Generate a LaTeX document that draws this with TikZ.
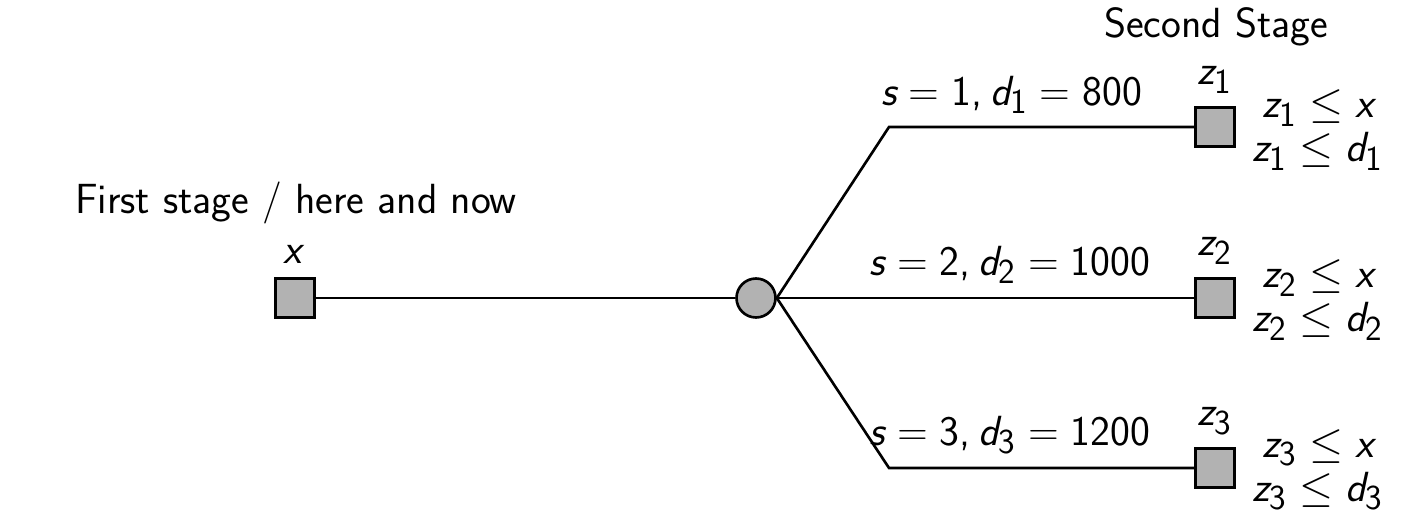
\documentclass[tikz,border=0pt]{standalone}
\renewcommand{\familydefault}{\sfdefault}
\usepackage[italic]{mathastext}
\begin{document}
\begin{tikzpicture}[x=0.02cm,y=-0.02cm,
  every node/.style={font=\fontsize{24}{28}\selectfont},
  decision/.style={draw,line width=1.5pt,fill=black!30,minimum size=0.78cm,inner sep=0pt},
  chance/.style={draw,circle,line width=1.5pt,fill=black!30,minimum size=0.78cm,inner sep=0pt},
  edge/.style={line width=1.5pt}]
\useasboundingbox (0,0) rectangle (1426,520);
\node[decision] (x) at (295,298) {};
\node[chance] (c) at (756,298) {};
\node[decision] (z1) at (1215,127) {};
\node[decision] (z2) at (1215,298) {};
\node[decision] (z3) at (1215,468) {};
\coordinate (b1) at (889,127);
\coordinate (b3) at (889,468);
\draw[edge] (x) -- (c);
\draw[edge] (c.east) -- (b1) -- (z1);
\draw[edge] (c) -- (z2);
\draw[edge] (c.east) -- (b3) -- (z3);
\node (lx) at (293,254) {$x$};
\node (l1) at (1215,80) {$z_1$};
\node (l2) at (1215,251) {$z_2$};
\node (l3) at (1215,421) {$z_3$};
\node (first) at (296,203) {First stage / here and now};
\node (second) at (1216,27) {Second Stage};
\node (s1) at (1012,95) {$s=1, d_1=800$};
\node (s2) at (1010,265) {$s=2, d_2=1000$};
\node (s3) at (1010,435) {$s=3, d_3=1200$};
\node[align=center] (c1) at (1318,130) {$z_1\leq x$\\[-3pt]$z_1\leq d_1$};
\node[align=center] (c2) at (1318,300) {$z_2\leq x$\\[-3pt]$z_2\leq d_2$};
\node[align=center] (c3) at (1318,470) {$z_3\leq x$\\[-3pt]$z_3\leq d_3$};
\end{tikzpicture}
\end{document}
